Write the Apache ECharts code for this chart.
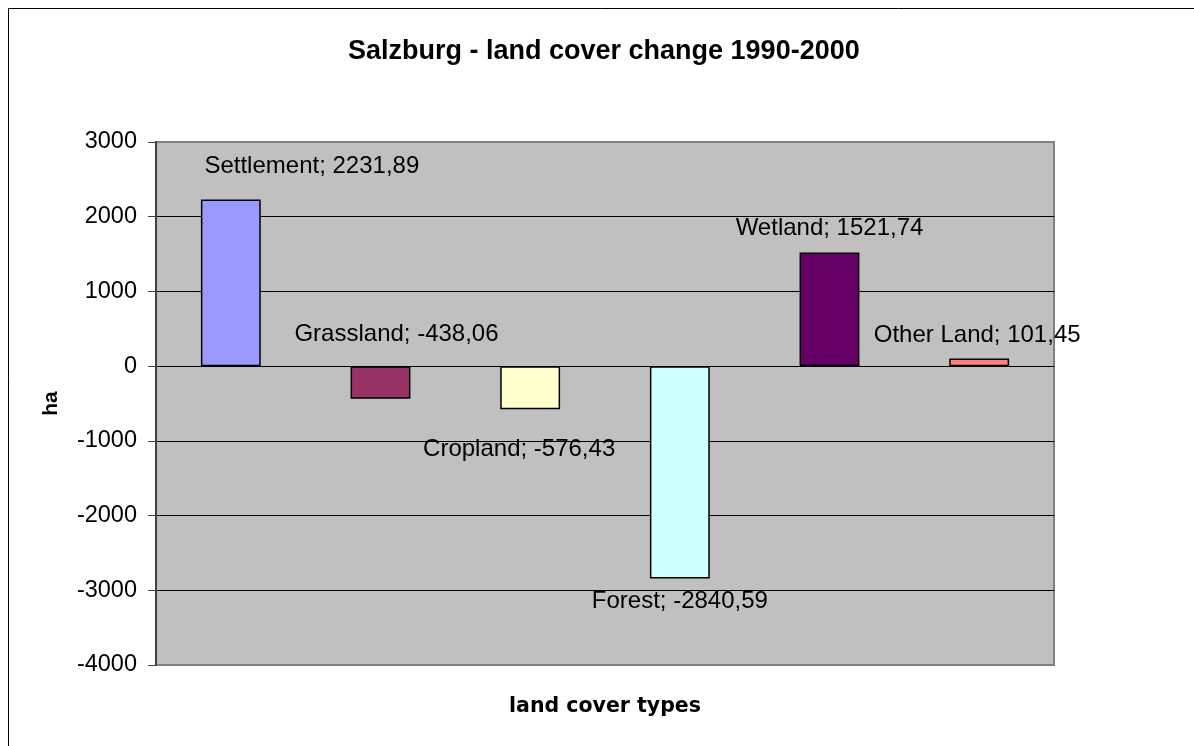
<!DOCTYPE html>
<html>
<head>
<meta charset="utf-8">
<script src="https://cdn.jsdelivr.net/npm/echarts@6/dist/echarts.min.js"></script>
<style>
  html, body { margin: 0; padding: 0; background: #ffffff; }
  #chart { width: 1194px; height: 746px; }
</style>
</head>
<body>
<div id="chart"></div>
<script>
// Land cover change in Salzburg, 1990-2000 (hectares)
const categories = ['Settlement', 'Grassland', 'Cropland', 'Forest', 'Wetland', 'Other Land'];
const changeHa = [2231.89, -438.06, -576.43, -2840.59, 1521.74, 101.45];
const barColors = ['#9999FF', '#993366', '#FFFFCC', '#CCFFFF', '#660066', '#FF8080'];
const titleText = 'Salzburg - land cover change 1990-2000';
const xAxisTitle = 'land cover types';
const yAxisTitle = 'ha';

// label placement for each bar: [position, dx, dy]
const labelPlacement = [
  ['top', 81, -16],
  ['top', 16, -15],
  ['bottom', -11, 23],
  ['bottom', 0, 6],
  ['top', 0, -7],
  ['top', -2, -6]
];

const FONT = '"Liberation Sans", Arial, sans-serif';

function fmt(v) {
  return v.toFixed(2).replace('.', ',');
}

const seriesData = changeHa.map((v, i) => ({
  value: v,
  itemStyle: { color: barColors[i] },
  label: {
    position: labelPlacement[i][0],
    offset: [labelPlacement[i][1], labelPlacement[i][2]]
  }
}));

const chart = echarts.init(document.getElementById('chart'), null, { renderer: 'canvas' });

chart.setOption({
  animation: false,
  backgroundColor: '#ffffff',
  title: {
    text: titleText,
    left: 348,
    top: 38,
    padding: 0,
    textStyle: { fontFamily: FONT, fontSize: 27, fontWeight: 'bold', color: '#000000' }
  },
  grid: {
    left: 156,
    top: 142,
    width: 898,
    height: 523,
    outerBoundsMode: 'none',
    containLabel: false,
    show: true,
    backgroundColor: '#C0C0C0',
    borderColor: '#808080',
    borderWidth: 2
  },
  xAxis: {
    type: 'category',
    data: categories,
    name: xAxisTitle,
    nameLocation: 'middle',
    nameGap: 31,
    nameTextStyle: { fontFamily: '"DejaVu Sans", sans-serif', fontSize: 20.5, fontWeight: 'bold', color: '#000000' },
    axisLine: { show: false, onZero: false },
    axisTick: { show: false },
    axisLabel: { show: false },
    splitLine: { show: false }
  },
  yAxis: {
    type: 'value',
    min: -4000,
    max: 3000,
    interval: 1000,
    name: yAxisTitle,
    nameLocation: 'middle',
    nameGap: 94,
    nameRotate: 90,
    nameTextStyle: { fontFamily: FONT, fontSize: 21, fontWeight: 'bold', color: '#000000' },
    axisLine: { show: true, lineStyle: { color: '#404040', width: 2 } },
    axisTick: { show: true, inside: false, length: 8, lineStyle: { color: '#404040', width: 1 } },
    axisLabel: {
      fontFamily: FONT,
      fontSize: 23.5,
      color: '#000000',
      margin: 19,
      formatter: v => String(v)
    },
    splitLine: {
      show: true,
      showMinLine: false,
      showMaxLine: false,
      lineStyle: { color: '#000000', width: 1 }
    }
  },
  series: [{
    type: 'bar',
    data: seriesData,
    barWidth: '40%',
    itemStyle: { borderColor: '#000000', borderWidth: 1.5 },
    label: {
      show: true,
      distance: 5,
      fontFamily: FONT,
      fontSize: 24,
      color: '#000000',
      formatter: p => p.name + '; ' + fmt(p.value)
    }
  }],
  graphic: [{
    type: 'rect',
    shape: { x: 8.5, y: 8.5, width: 1200, height: 760 },
    style: { fill: 'none', stroke: '#000000', lineWidth: 1 },
    silent: true
  }]
});
</script>
</body>
</html>
